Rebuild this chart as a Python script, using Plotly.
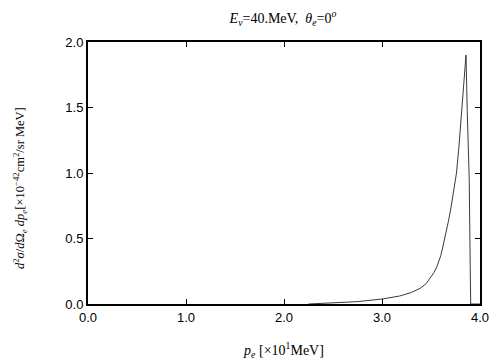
import plotly.graph_objects as go

# data
p_e = [2.25, 2.5, 2.75, 3.0, 3.1, 3.18, 3.3, 3.39, 3.45, 3.49, 3.53, 3.56, 3.6, 3.625,
       3.65, 3.68, 3.705, 3.73, 3.76, 3.785, 3.81, 3.835, 3.857, 3.87, 3.89, 3.9, 3.905, 4.0]
xsec = [0.0, 0.008, 0.018, 0.038, 0.048, 0.061, 0.088, 0.12, 0.155, 0.196, 0.24, 0.285,
        0.37, 0.45, 0.53, 0.64, 0.74, 0.845, 1.0, 1.2, 1.45, 1.68, 1.90, 1.47, 0.95, 0.3, 0.0, 0.0]
x_ticks = [0.0, 1.0, 2.0, 3.0, 4.0]
y_ticks = [0.0, 0.5, 1.0, 1.5, 2.0]

serif = "Liberation Serif, Times New Roman, serif"
sans = "Liberation Sans, Arial, sans-serif"

fig = go.Figure(go.Scatter(x=p_e, y=xsec, mode="lines",
                           line=dict(color="#222", width=0.9), showlegend=False))

fig.update_layout(
    width=504, height=360,
    margin=dict(l=88, r=24, t=42, b=56),
    paper_bgcolor="white", plot_bgcolor="white",
    title=dict(text="<i>E</i><sub><i>ν</i></sub>=40.MeV,  <i>θ</i><sub><i>e</i></sub>=0<sup><i>o</i></sup>",
               x=(283 / 504), xanchor="center", y=1 - 18 / 360, yanchor="middle",
               font=dict(family=serif, size=14, color="black")),
    annotations=[dict(
        text="<i>d</i><sup>2</sup><i>σ</i>/<i>d</i>Ω<sub><i>e</i></sub> <i>dp</i><sub><i>e</i></sub>[×10<sup>−42</sup>cm<sup>2</sup>/sr MeV]",
        xref="paper", yref="paper", x=0, y=0.5, xshift=-68, yshift=-15,
        xanchor="center", yanchor="middle", textangle=-90, showarrow=False,
        font=dict(family=serif, size=12.5, color="black"))],
)
fig.update_xaxes(range=[0, 4], tickvals=x_ticks, ticktext=[f"{v:.1f}" for v in x_ticks],
                 ticks="inside", ticklen=5, tickwidth=1, tickcolor="black",
                 showline=True, linewidth=2, linecolor="black", mirror="ticks",
                 showgrid=False, zeroline=False, automargin=False,
                 tickfont=dict(family=sans, size=13, color="black"),
                 title=dict(text="<i>p</i><sub><i>e</i></sub> [×10<sup>1</sup>MeV]",
                            font=dict(family=serif, size=14, color="black"), standoff=22))
fig.update_yaxes(range=[0, 2], tickvals=y_ticks, ticktext=[f"{v:.1f}" for v in y_ticks],
                 ticks="inside", ticklen=5, tickwidth=1, tickcolor="black",
                 showline=True, linewidth=2, linecolor="black", mirror="ticks",
                 showgrid=False, zeroline=False, automargin=False,
                 tickfont=dict(family=sans, size=13, color="black"))

fig.write_html("out.html", config={"displayModeBar": False},
               post_script="document.body.style.margin='0px';")
